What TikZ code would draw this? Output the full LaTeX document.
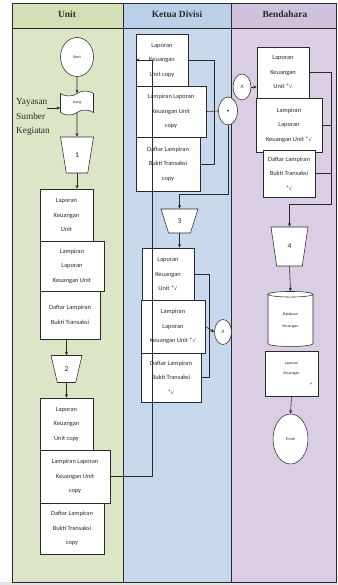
\documentclass[tikz,border=0pt]{standalone}
\usepackage{fontspec}
\setmainfont{Carlito}
\newfontfamily\headfont{Liberation Serif}
\newfontfamily\symfont{DejaVu Sans}
\usetikzlibrary{shapes.geometric,shapes.symbols,arrows.meta}

\definecolor{unitbg}{HTML}{DCE6C6}
\definecolor{unithd}{HTML}{D3E0B6}
\definecolor{ketbg}{HTML}{C8D9EE}
\definecolor{kethd}{HTML}{BCD0EA}
\definecolor{benbg}{HTML}{DACEE4}
\definecolor{benhd}{HTML}{D0C2DD}
\definecolor{ink}{HTML}{2A2A2A}

\newcommand{\okm}{*{\symfont\fontsize{5.2}{6}\selectfont √}}

\tikzset{
  laneline/.style={draw=ink, line width=0.6pt},
  headtext/.style={font=\headfont\bfseries\fontsize{9.5}{11}\selectfont, text=ink},
  docbox/.style={rectangle, draw=ink, fill=white, line width=0.55pt, align=center,
    inner sep=1pt, font=\fontsize{6.4}{14.5}\selectfont, text=ink},
  sz/.style 2 args={minimum width=#1pt, minimum height=#2pt},
  merge/.style={trapezium, trapezium stretches=true, shape border rotate=180,
    trapezium angle=78, draw=ink, fill=white, line width=0.55pt,
    font=\fontsize{7.5}{8}\selectfont, inner sep=0pt, text=ink},
  terminal/.style={ellipse, draw=ink, fill=white, line width=0.55pt, inner sep=0pt,
    align=center, font=\fontsize{4}{5}\selectfont, text=ink},
  pageref/.style={ellipse, draw=ink, fill=white, line width=0.55pt, inner sep=0pt,
    font=\fontsize{5}{6}\selectfont, text=ink},
  conn/.style={draw=ink, line width=0.6pt},
  arr/.style={conn, -{Stealth[length=3.6pt,width=3.2pt]}},
}

\begin{document}
\begin{tikzpicture}[x=1pt,y=-1pt]
\useasboundingbox (0,0) rectangle (337,585);

% swimlanes
\fill[unitbg] (12,3) rectangle (123,582);
\fill[ketbg] (123,3) rectangle (231,582);
\fill[benbg] (231,3) rectangle (337,582);
\fill[unithd] (12,3) rectangle (123,28);
\fill[kethd] (123,3) rectangle (231,28);
\fill[benhd] (231,3) rectangle (337,28);
\fill[gray!22] (0,582.3) rectangle (337,585);
\draw[laneline] (12,3) rectangle (336.6,582);
\draw[laneline] (123,3) -- (123,582);
\draw[laneline] (231,3) -- (231,582);
\draw[laneline] (12,28) -- (336.6,28);

\node[headtext] (hUnit) at (67,14.5) {Unit};
\node[headtext] (hKetua) at (177,14.5) {Ketua Divisi};
\node[headtext] (hBend) at (285,14.5) {Bendahara};

% ---- Unit ----
\node[terminal, sz={33}{39}] (start) at (77,57) {Start};
\node[tape, draw=ink, fill=white, line width=0.55pt, sz={33}{24}, tape bend height=5pt,
  inner sep=0pt, font=\fontsize{4}{5}\selectfont, text=ink] (uang) at (77,103) {Uang};
\node[font=\headfont\fontsize{9.3}{14.5}\selectfont, align=left, anchor=west, inner sep=0pt,
  text=ink] (src) at (16,117) {Yayasan\\Sumber\\Kegiatan};
\coordinate (srcend) at (47,108);
\node[merge, sz={33}{36}] (t1) at (77,155) {1};

\node[docbox, sz={53}{52}] (u1) at (66.5,215) {Laporan\\Keuangan\\Unit};
\node[docbox, sz={64}{50}] (u2) at (72,266) {Lampiran\\Laporan\\Keuangan Unit};
\node[docbox, sz={60}{48}] (u3) at (70,315) {Daftar Lampiran\\Bukti Transaksi};
\node[merge, sz={31}{27}, trapezium angle=75] (t2) at (66.5,369) {2};
\node[docbox, sz={53}{52}] (u4) at (66.5,424) {Laporan\\Keuangan\\Unit copy};
\node[docbox, sz={70}{53}] (u5) at (75,476.5) {Lampiran Laporan\\Keuangan Unit\\copy};
\node[docbox, sz={64}{51}] (u6) at (72,528.5) {Daftar Lampiran\\Bukti Transaksi\\copy};

% ---- Ketua Divisi ----
\node[docbox, sz={52}{52}] (k1) at (162,60) {Laporan\\Keuangan\\Unit copy};
\node[docbox, sz={70}{51}] (k2) at (171,111.5) {Lampiran Laporan\\Keuangan Unit\\copy};
\node[docbox, sz={64}{54}] (k3) at (168,164) {Daftar Lampiran\\Bukti Transaksi\\copy};
\node[pageref, sz={19}{28}] (j) at (228,111) {\textbullet};
\node[pageref, sz={18}{26}] (a1) at (242,87) {A};
\node[merge, sz={37}{24}, trapezium angle=75] (t3) at (179.5,221) {3};
\node[docbox, sz={52}{52}] (k4) at (168,274) {Laporan\\Keuangan\\Unit \okm};
\node[docbox, sz={64}{53}] (k5) at (173,326.5) {Lampiran\\Laporan\\Keuangan Unit \okm};
\node[docbox, sz={60}{49}] (k6) at (171,377.5) {Daftar Lampiran\\Bukti Transaksi\\\okm};
\node[pageref, sz={17}{25}] (a2) at (223,332) {A};

% ---- Bendahara ----
\node[docbox, sz={52}{51}] (b1) at (283,72.5) {Laporan\\Keuangan\\Unit \okm};
\node[docbox, sz={66}{54}] (b2) at (289,125) {Lampiran\\Laporan\\Keuangan Unit \okm};
\node[docbox, sz={52}{47}] (b3) at (289,173.5) {Daftar Lampiran\\Bukti Transaksi\\\okm};
\node[merge, sz={37}{39}, trapezium angle=80] (t4) at (289.5,246.5) {4};
\node[cylinder, shape border rotate=90, aspect=0.35, draw=ink, fill=white, line width=0.55pt,
  minimum height=55pt, minimum width=45pt, inner sep=0pt, align=center,
  font=\fontsize{4}{11.5}\selectfont, text=ink] (db) at (290.5,320.5) {Database\\Keuangan};
\node[docbox, sz={53}{45}, font=\fontsize{4}{10}\selectfont] (lk) at (291.5,373.5)
  {Laporan\\Keuangan\\\mbox{}};
\node[font=\fontsize{5}{6}\selectfont, inner sep=0pt, text=ink] (lkplus) at (311,384) {+};
\node[terminal, sz={35}{50}] (fin) at (290.5,439) {Finish};

% ---- connectors: Unit ----
\draw[arr] (start) -- (uang);
\draw[arr] (srcend) -- (srcend -| uang.west);
\draw[arr] (uang.south) -- (t1.north);
\draw[arr] (t1.south) -- (t1.south |- u1.north);
\draw[arr] (u3.south -| t2.north) -- (t2.north);
\draw[arr] (t2.south) -- (t2.south |- u4.north);
\draw[arr] (u5.east) -- ++(42,0) |- (k1.west);

% ---- connectors: Ketua Divisi ----
\draw[conn] (k1.east) -- ++(26,0) |- (k3.east);
\draw[conn] (k2.east) -- (j.west);
\draw[arr] (j.south) -- ++(0,69) -| (t3.north);
\draw[arr] (a1.east) -- (a1.east -| b1.west);
\draw[arr] (t3.south) -- (t3.south |- k4.north);
\draw[conn] (k4.east) -- ++(15,0) |- (k6.east);
\draw[arr] (k5.east) -- (a2.west);

% ---- connectors: Bendahara ----
\draw[conn] (b1.east) -- ++(22,0) |- (b3.east);
\draw[conn] (b2.east) -- ++(9,0);
\draw[arr] (b3.east) ++(16,0) -- ++(0,30.5) -| (t4.north);
\draw[arr] (t4.south) -- (db.north);
\draw[arr] (lk.south) -- (fin.north);
\end{tikzpicture}
\end{document}
